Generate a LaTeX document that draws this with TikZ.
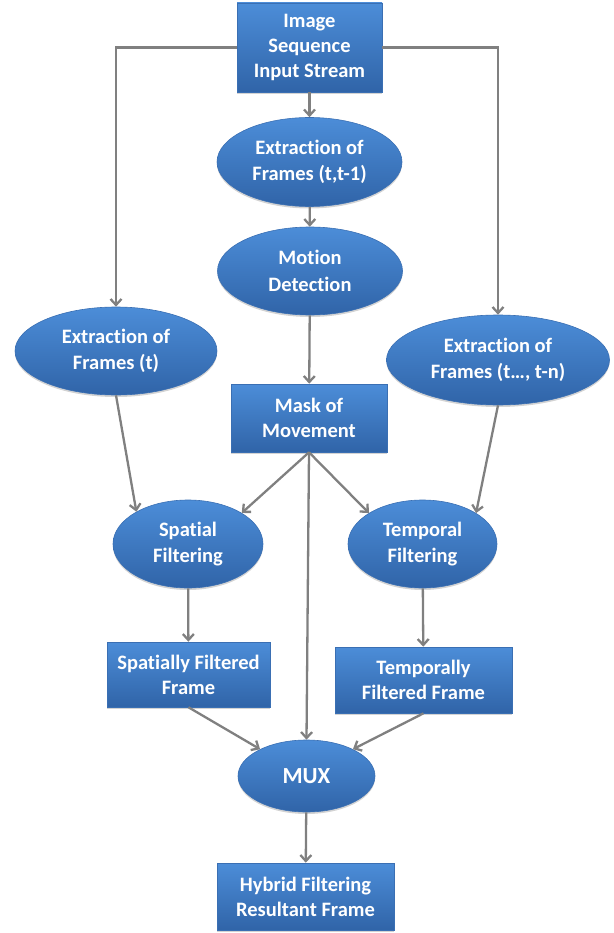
\documentclass[tikz,border=0pt]{standalone}
\usepackage{fontspec}
\setmainfont{Carlito}[Ligatures=NoCommon]
\usetikzlibrary{shapes.geometric, shadows, arrows.meta}
\definecolor{boxtop}{HTML}{4C8DD8}
\definecolor{boxbot}{HTML}{3064A8}
\definecolor{boxline}{HTML}{3A6FB3}
\definecolor{linegray}{HTML}{808080}
\begin{document}
\begin{tikzpicture}[x=1pt, y=-1pt, ->, >={Straight Barb[length=6pt, width=11pt]}, line width=2.3pt, draw=linegray,
  blok/.style={rectangle, draw=boxline, line width=0.6pt, top color=boxtop, bottom color=boxbot, text=white,
    font=\fontsize{20.5}{25}\selectfont\bfseries, align=center, inner sep=0pt,
    drop shadow={opacity=0.35, shadow xshift=0pt, shadow yshift=-2pt}},
  oval/.style={blok, ellipse, font=\fontsize{20.5}{26.5}\selectfont\bfseries}]
  \useasboundingbox (0,0) rectangle (613,933);

  \node[blok, minimum width=145pt, minimum height=89pt] (inp) at (309.5, 47.5) {Image\\Sequence\\Input Stream};
  \node[oval, minimum width=185pt, minimum height=89pt] (ext1) at (309.5, 162) {Extraction of\\Frames (t,t-1)};
  \node[oval, minimum width=185pt, minimum height=88pt] (mot) at (310, 271) {Motion\\Detection};
  \node[oval, minimum width=202pt, minimum height=88pt] (extt) at (116, 351) {Extraction of\\Frames (t)};
  \node[oval, minimum width=223pt, minimum height=90pt] (extn) at (498, 360) {Extraction of\\Frames (t…, t-n)};

  \node[blok, minimum width=156pt, minimum height=68pt] (mask) at (309, 418) {Mask of\\Movement};
  \node[oval, minimum width=150pt, minimum height=88pt] (spa) at (188, 544) {Spatial\\Filtering};
  \node[oval, minimum width=149pt, minimum height=88pt] (tem) at (422.5, 544) {Temporal\\Filtering};
  \node[blok, minimum width=163pt, minimum height=65pt] (spf) at (188.5, 674.5) {Spatially Filtered\\Frame};
  \node[blok, minimum width=177pt, minimum height=66pt] (tpf) at (423.5, 680) {Temporally\\Filtered Frame};

  \node[oval, minimum width=137pt, minimum height=72pt, font=\fontsize{23}{28}\selectfont\bfseries] (mux) at (306.5, 776) {MUX};
  \node[blok, minimum width=177pt, minimum height=67pt] (hyb) at (305.5, 896.5) {Hybrid Filtering\\Resultant Frame};

  \path (inp) edge (ext1);
  \path (ext1) edge (mot);
  \path (mot) edge (mask);
  \draw (inp.west) -| (extt.north);
  \draw (inp.east) -| (extn.north);
  \path (extt.south) edge (spa.148);
  \path (extn.south) edge (tem.30);
  \path (mask.south) edge (spa.30);
  \path (mask.south) edge (tem.150);
  \path (mask.south) edge (mux.north);
  \path (spa) edge (spf);
  \path (tem) edge (tpf);
  \path (spf.south) edge (mux.150);
  \path (tpf.south) edge (mux.30);
  \path (mux) edge (hyb);
\end{tikzpicture}
\end{document}
